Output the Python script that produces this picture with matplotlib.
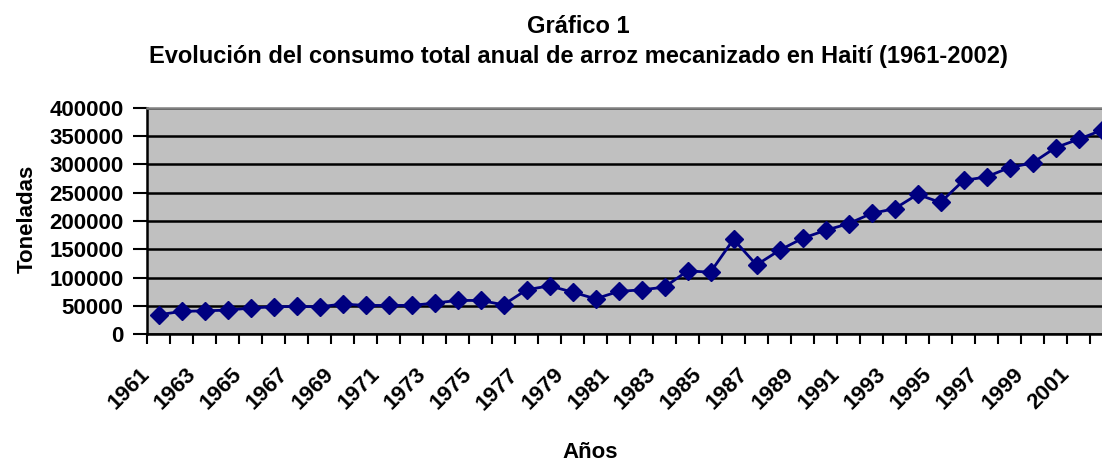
import numpy as np
import matplotlib
matplotlib.use("Agg")
import matplotlib.pyplot as plt
from matplotlib.transforms import ScaledTranslation

# ----- DATA -----
years = list(range(1961, 2003))
toneladas = [
    34000, 40000, 41000, 42300, 45900, 48200, 48800, 48200, 52900, 50600,
    50600, 50600, 54700, 59400, 59400, 51700, 78200, 85300, 74100, 62300,
    75300, 78200, 82900, 111700, 109400, 167600, 122300, 148200, 169300, 183500,
    195200, 213400, 221700, 247000, 232900, 271700, 278100, 294600, 302800, 329900,
    344600, 360500,
]
y_ticks = list(range(0, 400001, 50000))
titulo1 = "Gráfico 1"
titulo2 = "Evolución del consumo total anual de arroz mecanizado en Haití (1961-2002)"

plt.rcParams["font.family"] = ["Liberation Sans", "DejaVu Sans"]
plt.rcParams["font.weight"] = "bold"

W, H = 1102, 461
fig = plt.figure(figsize=(W / 100, H / 100), dpi=100)
ax = fig.add_axes([147 / W, 1 - 334 / H, (1113 - 147) / W, (334 - 108) / H])

x = np.arange(len(years))
ax.set_facecolor("#C0C0C0")
ax.plot(x, toneladas, color="#000080", lw=2, marker="D", ms=9, mec="#000080", mfc="#000080",
        clip_on=False, zorder=3)

ax.set_xlim(-0.5, len(years) - 0.5)
ax.set_ylim(0, 400000)
ax.set_yticks(y_ticks)
ax.set_yticklabels([str(v) for v in y_ticks], fontsize=16, fontweight="bold")
ax.yaxis.grid(True, color="black", lw=1.8)
ax.set_axisbelow(True)

# ticks between categories, labels every other year
ax.set_xticks(np.arange(-0.5, len(years), 1.0))
ax.set_xticklabels([])
ax.set_xticks(x[::2], minor=True)
ax.set_xticklabels([str(y) for y in years[::2]], minor=True, rotation=45,
                   ha="right", va="center", rotation_mode="anchor",
                   fontsize=16, fontweight="bold")
ax.tick_params(axis="x", which="minor", length=0, pad=27)
ax.tick_params(axis="x", which="major", length=7, width=1.5, direction="out")
ax.tick_params(axis="y", length=10, width=1.5, direction="out", pad=7)
offset = ScaledTranslation(-12 / 100, 0, fig.dpi_scale_trans)
for lbl in ax.xaxis.get_minorticklabels():
    lbl.set_transform(lbl.get_transform() + offset)

for side in ["left", "bottom"]:
    ax.spines[side].set_color("black")
    ax.spines[side].set_linewidth(1.8)
ax.spines["top"].set_color("#808080")
ax.spines["top"].set_linewidth(1.8)
ax.spines["right"].set_visible(False)

fig.text(578 / W, 1 - 33 / H, titulo1, ha="center", va="baseline", fontsize=17,
         fontweight="bold")
fig.text(578 / W, 1 - 63 / H, titulo2, ha="center", va="baseline", fontsize=17,
         fontweight="bold")
fig.text(27 / W, 1 - 219 / H, "Toneladas", rotation=90, ha="center", va="center",
         fontsize=16, fontweight="bold")
fig.text(590 / W, 1 - 458 / H, "Años", ha="center", va="baseline", fontsize=16,
         fontweight="bold")

fig.savefig("out.png", dpi=100)
